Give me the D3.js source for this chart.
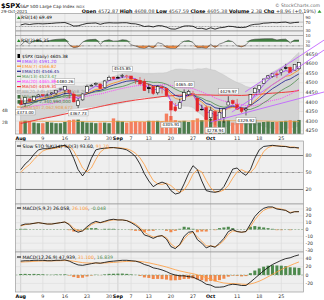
<!DOCTYPE html>
<html><head><meta charset="utf-8">
<script src="https://cdn.jsdelivr.net/npm/d3@7/dist/d3.min.js"></script>
<style>html,body{margin:0;padding:0;background:#fff;}svg{display:block;}</style>
</head><body>
<svg id="chart" width="324" height="300"></svg>
<script>
// ---------- DATA (Aug 2 – Oct 29, 2021) ----------
const prevClose = 4395.26;
const open = [4406.86,4392.74,4415.95,4408.86,4429.07,4437.77,4435.79,4442.18,4446.08,4464.84,
4461.65,4462.12,4440.94,4382.44,4410.56,4450.29,4484.40,4490.45,4493.75,4474.10,
4513.76,4529.75,4528.80,4534.48,4532.42,4535.38,4518.09,4513.02,4506.92,4474.81,
4479.33,4447.49,4477.09,4469.74,4402.95,4374.45,4367.43,4406.75,4438.04,4442.12,
4419.54,4362.41,4370.67,4317.16,4348.84,4309.87,4319.57,4383.73,4406.51,4385.44,
4368.31,4358.01,4386.75,4447.69,4463.72,4497.34,4524.42,4532.24,4546.12,4553.69,
4578.69,4580.22,4562.84,4572.87];
const high = [4422.18,4423.79,4416.17,4429.76,4440.82,4439.39,4445.21,4449.44,4461.77,4468.37,
4480.26,4462.12,4454.32,4418.61,4444.35,4489.88,4492.81,4501.71,4495.90,4513.33,
4537.36,4531.39,4537.11,4545.85,4541.45,4535.38,4521.79,4529.90,4520.47,4492.99,
4485.68,4486.87,4485.87,4471.52,4402.95,4394.87,4416.75,4465.40,4463.12,4457.30,
4419.54,4385.57,4382.55,4375.19,4355.51,4369.23,4365.57,4429.97,4412.02,4415.88,
4374.89,4372.87,4439.73,4475.82,4488.75,4520.40,4540.87,4551.44,4559.67,4572.62,
4598.53,4584.57,4597.55,4608.08];
const low = [4384.81,4373.00,4400.23,4408.86,4429.07,4424.74,4430.03,4436.42,4435.96,4460.82,
4437.66,4417.83,4397.59,4367.73,4406.80,4450.29,4482.28,4485.66,4468.99,4474.10,
4513.76,4515.80,4522.02,4524.66,4521.30,4513.00,4493.95,4492.07,4457.66,4445.70,
4435.46,4438.37,4443.80,4427.76,4305.91,4347.96,4367.43,4406.75,4430.27,4436.19,
4346.33,4355.08,4306.24,4288.52,4278.94,4309.87,4290.49,4383.73,4386.22,4360.59,
4342.09,4329.92,4386.75,4447.69,4447.47,4496.41,4524.40,4526.89,4524.00,4537.36,
4569.17,4551.66,4562.84,4567.59];
const close = [4387.16,4423.15,4402.66,4429.10,4436.52,4432.35,4436.75,4447.70,4460.83,4468.00,
4479.71,4448.08,4400.27,4405.80,4441.67,4479.53,4486.23,4496.19,4470.00,4509.37,
4528.79,4522.68,4524.09,4536.95,4535.43,4520.03,4514.07,4493.28,4458.58,4468.73,
4443.05,4480.70,4473.75,4432.99,4357.73,4354.19,4395.64,4448.98,4455.48,4443.11,
4352.63,4359.46,4307.54,4357.04,4300.46,4345.72,4363.55,4399.76,4391.34,4361.19,
4350.65,4363.80,4438.26,4471.37,4486.46,4519.63,4536.19,4549.78,4544.90,4566.48,
4574.79,4551.68,4596.42,4605.38];
const volume = [2.1,2.2,2.1,1.9,1.8,1.8,2.0,1.9,1.8,1.8,
2.0,2.3,2.4,2.4,2.1,1.9,1.9,1.8,1.9,1.9,
1.8,2.6,2.2,2.1,1.9,2.0,2.1,2.0,2.0,2.2,
2.2,2.2,2.1,3.4,3.0,2.3,2.1,2.2,2.0,2.3,
2.6,2.3,2.7,2.5,2.6,2.2,2.2,2.3,1.9,1.9,
2.1,2.1,2.2,2.4,1.9,2.0,2.1,2.0,2.0,2.1,
2.2,2.3,2.2,2.34];
const volSma50 = [2.14,2.14,2.13,2.13,2.12,2.12,2.11,2.11,2.10,2.10,
2.09,2.09,2.09,2.09,2.08,2.08,2.08,2.07,2.07,2.07,
2.06,2.07,2.07,2.07,2.07,2.07,2.07,2.07,2.07,2.07,
2.08,2.08,2.08,2.11,2.13,2.14,2.14,2.15,2.15,2.16,
2.17,2.18,2.19,2.20,2.21,2.21,2.21,2.22,2.21,2.21,
2.21,2.21,2.20,2.20,2.19,2.17,2.15,2.13,2.11,2.09,
2.08,2.07,2.07,2.06];
const ema3 = [4393.5,4408.3,4405.5,4417.3,4426.9,4429.6,4433.2,4440.4,4450.6,4459.3,
4469.5,4458.8,4429.5,4417.7,4429.7,4454.6,4470.4,4483.3,4476.7,4493.0,
4510.9,4516.8,4520.4,4528.7,4532.1,4526.0,4520.1,4506.7,4482.6,4475.7,
4459.4,4470.0,4471.9,4452.5,4405.1,4379.6,4387.6,4418.3,4436.9,4440.0,
4396.3,4377.9,4342.7,4349.9,4325.2,4335.4,4349.5,4374.6,4383.0,4372.1,
4361.4,4362.6,4400.4,4435.9,4461.2,4490.4,4513.3,4531.5,4538.2,4552.4,
4563.6,4557.6,4577.0,4591.2];
const ema7 = [4389.3,4397.7,4399.0,4406.5,4414.1,4418.6,4423.2,4429.4,4437.3,4445.0,
4453.7,4452.3,4439.2,4430.9,4433.7,4445.3,4455.5,4465.6,4466.7,4477.3,
4490.2,4498.4,4504.8,4512.9,4518.4,4518.8,4517.6,4511.5,4498.4,4491.0,
4479.0,4479.5,4478.1,4466.8,4439.6,4418.2,4412.7,4421.8,4430.1,4433.3,
4413.2,4399.7,4376.8,4371.9,4353.9,4351.9,4354.9,4366.2,4372.4,4369.6,
4365.0,4364.8,4383.1,4405.1,4425.3,4449.0,4470.7,4490.5,4504.1,4519.6,
4533.5,4538.1,4552.6,4566.8];
const ema10 = [4385.4,4392.2,4394.2,4400.5,4407.1,4411.6,4416.2,4422.0,4429.1,4436.2,
4444.2,4444.9,4436.7,4431.1,4433.1,4441.6,4449.7,4458.1,4460.3,4469.1,
4480.0,4487.8,4494.4,4502.1,4508.1,4510.3,4511.0,4507.7,4498.8,4493.4,
4484.2,4483.6,4481.9,4473.0,4452.1,4434.3,4427.3,4431.2,4435.5,4436.9,
4421.6,4410.2,4391.6,4385.3,4369.8,4365.5,4365.2,4371.5,4375.1,4372.5,
4368.6,4367.8,4380.6,4397.0,4413.2,4432.6,4451.4,4469.3,4483.1,4498.2,
4512.2,4519.4,4533.3,4546.5];
const ma13 = [4371.6,4376.5,4382.3,4395.5,4404.2,4409.8,4415.2,4418.0,4421.0,4426.2,
4432.3,4434.5,4434.9,4436.3,4437.8,4443.7,4448.1,4452.6,4455.5,4461.0,
4467.2,4472.0,4476.3,4480.7,4487.4,4496.6,4504.9,4508.8,4507.2,4505.9,
4501.8,4502.6,4499.9,4492.5,4479.8,4466.7,4455.9,4449.3,4444.3,4438.8,
4428.0,4420.3,4407.9,4401.3,4387.4,4377.6,4372.3,4375.5,4378.3,4375.6,
4368.1,4361.1,4360.7,4369.8,4379.6,4395.9,4409.7,4428.9,4444.2,4459.7,
4473.2,4485.6,4503.7,4523.5];
const ma20 = [4367.4,4371.4,4373.7,4379.1,4382.5,4384.9,4388.3,4392.0,4397.0,4404.1,
4415.2,4421.4,4423.5,4425.4,4426.9,4429.8,4434.1,4438.8,4441.4,4447.1,
4454.2,4459.2,4465.2,4470.6,4475.5,4479.9,4483.8,4486.0,4485.9,4486.0,
4484.1,4485.8,4489.5,4490.8,4486.6,4480.3,4475.8,4473.5,4472.7,4469.4,
4460.6,4452.4,4441.6,4432.6,4420.9,4412.2,4404.7,4400.0,4396.6,4391.2,
4386.6,4380.8,4379.0,4380.9,4387.3,4395.6,4402.6,4407.6,4412.1,4418.3,
4429.4,4439.0,4453.4,4465.9];
const ma50 = [4288,4293,4298,4303,4308,4313,4318,4322,4327,4332,
4337,4342,4346,4351,4356,4361,4366,4371,4376,4381,
4386,4391,4395,4399,4403,4406,4410,4413,4416,4419,
4422,4425,4428,4430,4432,4434,4435,4436,4437,4437,
4437,4437,4436,4436,4435,4435,4435,4435,4435,4434,
4434,4435,4437,4438,4440,4442,4444,4446,4447,4449,
4451,4453,4456,4459.3];
const bbUpper = [4451,4451,4450,4451,4455,4455,4456,4460,4467,4476,
4485,4483,4484,4483,4483,4488,4494,4501,4503,4513,
4526,4533,4541,4549,4552,4552,4552,4550,4548,4548,
4548,4550,4550,4553,4563,4570,4572,4570,4569,4567,
4573,4572,4576,4569,4565,4552,4541,4526,4513,4501,
4493,4481,4475,4481,4497,4520,4539,4556,4568,4582,
4597,4613,4637,4658];
const bbLower = [4283,4291,4298,4307,4311,4315,4320,4324,4327,4332,
4345,4359,4364,4367,4371,4372,4374,4377,4379,4381,
4382,4385,4389,4393,4400,4408,4416,4422,4424,4424,
4420,4422,4430,4429,4411,4390,4380,4378,4377,4371,
4349,4332,4308,4297,4277,4272,4269,4274,4281,4281,
4281,4281,4283,4281,4277,4272,4267,4260,4256,4254,
4261,4265,4269,4274];
const rsi14 = [57,62,59,62,63,62,63,64,66,67,
68,61,52,53,59,64,65,66,60,65,
67,66,66,67,67,63,62,57,50,52,
48,54,53,47,39,38,45,52,53,51,
41,42,37,44,38,44,46,51,50,46,
45,47,56,60,61,65,66,68,67,69,
70,65,68,69.49];
const rsi2 = [35,75,50,78,85,68,75,85,91,94,
96,42,12,20,65,86,90,93,45,80,
88,75,77,88,84,40,28,12,4,25,
10,60,50,15,4,3,45,75,80,62,
12,15,5,45,15,47,62,82,70,30,
20,40,85,93,95,97,98,98,85,92,
94,55,85,85.35];
const stoK = [55,65,72,82,90,92,92,93,95,97,
98,92,75,55,44,55,75,90,92,93,
94,94,93,92,90,85,78,65,48,35,
25,30,33,30,18,12,14,30,48,62,
55,35,18,16,15,17,25,40,56,58,
50,45,55,75,90,96,97,98,97,96,
96,94,94,93.6];
const stoD = [50,58,64,73,81,88,91,92,93,95,
97,96,88,74,58,51,58,73,86,92,
93,94,94,93,92,89,84,76,64,49,
36,30,29,31,27,20,15,19,31,47,
55,51,36,23,16,16,19,27,40,51,
55,51,50,58,73,87,94,97,97,97,
96,95,95,91.7];
const macdFast = [6,8,8,9,10,9,8,8,9,10,
11,7,-1,-4,-2,4,9,12,10,12,
14,15,14,14,13,10,6,1,-8,-10,
-13,-10,-9,-14,-25,-28,-22,-10,-4,-3,
-15,-20,-27,-24,-26,-20,-13,-3,0,-3,
-4,-3,8,19,26,31,33,33,30,29,
28,24,26,26.058];
const macdFastSig = [5,7,8,9,10,9,8,8,9,10,
11,8,2,-2,-2,2,7,10,10,11,
13,14,14,14,13,11,8,3,-4,-8,
-11,-10,-9,-12,-21,-26,-23,-14,-7,-4,
-11,-17,-24,-24,-25,-22,-16,-7,-2,-3,
-4,-3,4,14,22,28,31,32,31,30,
28,25,26,26.106];
const macdFastHist = [1,1,0,0,0,0,0,0,0,0,
0,-1,-3,-2,0,2,2,2,0,1,
1,1,0,0,0,-1,-2,-2,-4,-2,
-2,0,0,-2,-4,-2,1,4,3,1,
-4,-3,-3,0,-1,2,3,4,2,0,
0,0,4,5,4,3,2,1,-1,-1,
0,-1,0,-0.048];
const macdSlow = [33,34,34,35,35,35,34,34,35,35,
36,33,28,24,23,25,27,29,28,30,
32,33,34,35,35,34,33,30,25,22,
17,15,12,8,3,0,-2,-2,-4,-5,
-10,-15,-22,-24,-29,-29,-28,-24,-22,-23,
-25,-25,-17,-8,1,10,18,25,30,35,
39,41,45,47.939];
const macdSlowSig = [30.6,31.3,31.8,32.4,32.9,33.3,33.4,33.5,33.8,34.0,
34.4,34.1,32.9,31.1,29.5,28.6,28.3,28.4,28.3,28.6,
29.3,30.0,30.8,31.6,32.3,32.6,32.7,32.2,30.8,29.0,
26.6,24.3,21.8,19.0,15.8,12.6,9.7,7.4,5.1,3.1,
0.5,-2.6,-6.5,-10.0,-13.8,-16.8,-19.1,-20.0,-20.4,-20.9,
-21.7,-22.4,-21.3,-18.6,-14.7,-9.8,-4.2,1.6,7.3,12.8,
18.0,22.6,27.1,31.1];
const macdSlowHist = [2.4,2.7,2.2,2.6,2.1,1.7,0.6,0.5,1.2,1.0,
1.6,-1.1,-4.9,-7.1,-6.5,-3.6,-1.3,0.6,-0.3,1.4,
2.7,3.0,3.2,3.4,2.7,1.4,0.3,-2.2,-5.8,-7.0,
-9.6,-9.3,-9.8,-11.0,-12.8,-12.6,-11.7,-9.4,-9.1,-8.1,
-10.5,-12.4,-15.5,-14.0,-15.2,-12.2,-8.9,-4.0,-1.6,-2.1,
-3.3,-2.6,4.3,10.6,15.7,19.8,22.2,23.4,22.7,22.2,
21.0,18.4,17.9,16.839];
const tickIdx = [0,5,10,15,20,22,25,29,34,39,43,49,54,59];
const tickLabels = ["Aug","9","16","23","30","Sep","7","13","20","27","Oct","11","18","25"];
const priceTicks = [4650,4600,4550,4500,4450,4400,4350,4300,4250];
const annotIdx = [1,10,13,23,34,37,44,47,51];
const annotPrice = [4373.00,4480.26,4367.73,4545.85,4305.91,4465.40,4278.94,4429.97,4329.92];
// trend lines: [dayIndex0, price0, dayIndex1, price1]
const trendLines = [[50.8,4452,68.7,4723],[47.8,4347,68.7,4671],[42.9,4295,68.7,4452]];

// ---------- LAYOUT ----------
const svg = d3.select('#chart').style('font-family','"DejaVu Sans",Verdana,sans-serif');
const L = 15.5, R = 303.5;
const x = d3.scaleLinear().domain([-1,64]).range([16.3,303.4]);
const idx = d3.range(close.length);

function frame(top,bottom){
  svg.append('rect').attr('x',L).attr('y',top).attr('width',R-L).attr('height',bottom-top).attr('fill','#efefef');
  tickIdx.forEach((t,k)=>{
    const month = /[A-Za-z]/.test(tickLabels[k]);
    svg.append('line').attr('x1',x(t)).attr('x2',x(t)).attr('y1',top).attr('y2',bottom)
      .attr('stroke',month?'#bcbcbc':'#d8d8d8').attr('stroke-width',0.6);
  });
  const id = 'cp'+Math.round(top*10);
  svg.append('clipPath').attr('id',id).append('rect').attr('x',L).attr('y',top).attr('width',R-L).attr('height',bottom-top);
  return svg.append('g').attr('clip-path',`url(#${id})`);
}
function border(top,bottom){
  svg.append('rect').attr('x',L).attr('y',top).attr('width',R-L).attr('height',bottom-top)
    .attr('fill','none').attr('stroke','#9a9a9a').attr('stroke-width',0.7);
}
function hline(g,yv,color,dash,w){
  g.append('line').attr('x1',L).attr('x2',R).attr('y1',yv).attr('y2',yv)
   .attr('stroke',color).attr('stroke-width',w||0.6).attr('stroke-dasharray',dash||null);
}
function rightLabels(scale,vals,fs){
  vals.forEach(v=>svg.append('text').attr('x',305.5).attr('y',scale(v)).attr('dy','0.35em')
    .attr('font-size',fs||4.8).attr('fill','#333').text(v));
}
function series(g,scale,arr,color,w,dash){
  g.append('path').datum(arr).attr('fill','none').attr('stroke',color).attr('stroke-width',w||0.8)
   .attr('stroke-dasharray',dash||null)
   .attr('d',d3.line().x((d,i)=>x(i)).y(d=>scale(d)));
}
function label(xp,yp,parts,fs){
  const t = svg.append('text').attr('x',xp).attr('y',yp).attr('font-size',fs||4.6);
  parts.forEach(p=>t.append('tspan').attr('fill',p[1]||'#000').attr('font-weight',p[2]||null).text(p[0]));
  return t;
}
function xLabels(yp){
  tickIdx.forEach((t,k)=>{
    const month = /[A-Za-z]/.test(tickLabels[k]);
    svg.append('text').attr('x',x(t)).attr('y',yp).attr('text-anchor','middle').attr('font-size',4.8)
      .attr('font-weight',month?'bold':null).attr('fill',month?'#000':'#333').text(tickLabels[k]);
  });
}

// ---------- HEADER ----------
label(1,7.5,[['$SPX','#000','bold']],6.6);
label(20,7.5,[['S&P 500 Large Cap Index ','#222']],4.3).append('tspan').attr('font-size',3.4).attr('fill','#444').text('INDX');
svg.append('text').attr('x',320).attr('y',7).attr('text-anchor','end').attr('font-size',4.6).attr('fill','#666').text('© StockCharts.com');
label(1,13,[['29-Oct-2021','#222']],4.2);
label(316,13,[['Open ','#000','bold'],['4572.87 ','#333'],['High ','#000','bold'],['4608.08 ','#333'],
  ['Low ','#000','bold'],['4567.59 ','#333'],['Close ','#000','bold'],['4605.38 ','#333'],
  ['Volume ','#000','bold'],['2.3B ','#333'],['Chg ','#000','bold'],['+8.96 (+0.19%)','#333']],4.9).attr('text-anchor','end');
svg.append('path').attr('d','M317.5,12.8 L321.5,12.8 L319.5,10 Z').attr('fill','#2a9a2a');

// ---------- RSI(14) ----------
{
  const top=13.5,bottom=35.5;
  const y=d3.scaleLinear().domain([0,100]).range([37.5,15.5]);
  const g=frame(top,bottom);
  hline(g,y(70),'#9a9a9a'); hline(g,y(30),'#555'); hline(g,y(50),'#777','2,1');
  series(g,y,rsi14,'#000',0.8);
  border(top,bottom);
  rightLabels(y,[90,70,30,10],4.0);
  svg.append('path').attr('d','M17,19 L20.5,19 L18.75,16 Z').attr('fill','#2a8a2a');
  label(21,19,[['RSI(14) 69.49','#000']],4.5);
}
// ---------- RSI(2) ----------
{
  const top=35.5,bottom=49;
  const y=d3.scaleLinear().domain([0,100]).range([49,38.5]);
  const g=frame(top,bottom);
  g.append('path').datum(rsi2).attr('fill','#3f7f3f')
    .attr('d',d3.area().x((d,i)=>x(i)).y0(y(70)).y1(d=>y(Math.max(d,70))));
  g.append('path').datum(rsi2).attr('fill','#f08a40')
    .attr('d',d3.area().x((d,i)=>x(i)).y0(y(30)).y1(d=>y(Math.min(d,30))));
  hline(g,y(30),'#555','3,1,1,1');
  series(g,y,rsi2,'#444',0.6);
  border(top,bottom);
  rightLabels(y,[70,30],3.6);
  svg.append('path').attr('d','M17,42 L20.5,42 L18.75,39 Z').attr('fill','#2a8a2a');
  label(21,42,[['RSI(2) 85.35','#000']],4.5);
}
// ---------- PRICE ----------
{
  const top=49,bottom=134;
  const y=d3.scaleLinear().domain([4250,4650]).range([130.7,54]);
  const vy=d3.scaleLinear().domain([0,4]).range([134,110]);
  const g=frame(top,bottom);
  priceTicks.forEach(p=>hline(g,y(p),'#dadada'));
  g.append('path').datum(idx).attr('fill','#d4d4d4').attr('stroke','#bdbdbd').attr('stroke-width',0.4)
    .attr('d',d3.area().x(i=>x(i)).y0(i=>y(bbLower[i])).y1(i=>y(bbUpper[i])));
  idx.forEach(i=>{
    const pc = i?close[i-1]:prevClose;
    g.append('rect').attr('x',x(i)-1.7).attr('width',3.4).attr('y',vy(volume[i])).attr('height',vy(0)-vy(volume[i]))
      .attr('fill',close[i]>=pc?'#4d7d4d':'#f47f5f');
  });
  series(g,vy,volSma50,'#f0a040',0.7);
  series(g,y,ma50,'#f02828',0.9);
  series(g,y,ma20,'#ff33ff',0.9,'1,1');
  series(g,y,ma13,'#4f8f4f',0.8);
  series(g,y,ema10,'#1a1a8c',0.8);
  series(g,y,ema7,'#ff8c1a',0.8);
  series(g,y,ema3,'#9b30ff',0.8);
  idx.forEach(i=>{
    const pc = i?close[i-1]:prevClose;
    const col = close[i]<pc?'#e3262a':'#000';
    const filled = close[i]<open[i];
    g.append('line').attr('x1',x(i)).attr('x2',x(i)).attr('y1',y(high[i])).attr('y2',y(low[i]))
      .attr('stroke',col).attr('stroke-width',0.6);
    const y0=Math.min(y(open[i]),y(close[i])), h=Math.max(0.7,Math.abs(y(open[i])-y(close[i])));
    g.append('rect').attr('x',x(i)-1.4).attr('width',2.8).attr('y',y0).attr('height',h)
      .attr('fill',filled?col:'#fff').attr('stroke',col).attr('stroke-width',0.5);
  });
  // annotations
  annotIdx.forEach((i,k)=>{
    const p=annotPrice[k], above = p===high[i];
    const cy = above? y(p)-5 : y(p)+5;
    const txt = p.toFixed(2);
    const w = txt.length*2.55+2;
    svg.append('rect').attr('x',x(i)-w/2).attr('y',cy-2.8).attr('width',w).attr('height',5.6)
      .attr('fill','#fff').attr('stroke','#888').attr('stroke-width',0.4);
    svg.append('text').attr('x',x(i)).attr('y',cy).attr('dy','0.35em').attr('text-anchor','middle')
      .attr('font-size',4.2).attr('fill','#111').text(txt);
  });
  border(top,bottom);
  rightLabels(y,priceTicks,4.8);
  svg.append('text').attr('x',2).attr('y',vy(4)).attr('dy','0.35em').attr('font-size',4.4).attr('fill','#333').text('4B');
  svg.append('text').attr('x',2).attr('y',vy(2)).attr('dy','0.35em').attr('font-size',4.4).attr('fill','#333').text('2B');
  // trend lines (drawn unclipped)
  trendLines.forEach(t=>svg.append('line').attr('x1',x(t[0])).attr('y1',y(t[1])).attr('x2',x(t[2])).attr('y2',y(t[3]))
    .attr('stroke','#c266ff').attr('stroke-width',0.9));
  // legend
  const leg = [
    ['$SPX (Daily) 4605.38','#000','box'],
    ['EMA(3) 4591.20','#9b30ff','line'],
    ['EMA(7) 4566.82','#ff8c1a','line'],
    ['EMA(10) 4546.45','#1a1a8c','line'],
    ['MA(13) 4523.47','#4f8f4f','line'],
    ['MA(20) 4465.89','#ff33ff','line'],
    ['MA(50) 4459.31','#f02828','line'],
    ['BB(20,2.0) 4273.52 - 4658.26','#999','fill'],
    ['Volume 2,340,990,000','#3c6e3c','bar'],
    ['Volume 2,340,990,000','#3c6e3c','bar'],
    ['SMA(50) 2,062,908,672','#e8a050','line']
  ];
  leg.forEach((l,k)=>{
    const cy = 56 + k*5.1;
    if(l[2]==='line') svg.append('line').attr('x1',17).attr('x2',21).attr('y1',cy).attr('y2',cy).attr('stroke',l[1]).attr('stroke-width',1.2);
    else if(l[2]==='fill') svg.append('rect').attr('x',17).attr('y',cy-1.5).attr('width',4).attr('height',3).attr('fill','#ccc').attr('stroke','#999').attr('stroke-width',0.3);
    else if(l[2]==='bar') svg.append('rect').attr('x',17.5).attr('y',cy-1.8).attr('width',3).attr('height',3.6).attr('fill',l[1]);
    else { svg.append('rect').attr('x',17.5).attr('y',cy-2).attr('width',2.5).attr('height',4).attr('fill','#000'); }
    svg.append('text').attr('x',22).attr('y',cy).attr('dy','0.35em').attr('font-size',4.3).attr('fill',l[1]).text(l[0]);
  });
}
xLabels(139.5);
// ---------- SLOW STO ----------
{
  const top=141,bottom=204;
  const y=d3.scaleLinear().domain([0,100]).range([200.8,144.2]);
  const g=frame(top,bottom);
  hline(g,y(80),'#555',null,0.8); hline(g,y(20),'#555',null,0.8); hline(g,y(50),'#555','3,1,1,1');
  series(g,y,stoD,'#ff9a3a',0.8);
  series(g,y,stoK,'#000',0.8);
  border(top,bottom);
  rightLabels(y,[80,50,20],4.8);
  svg.append('line').attr('x1',17).attr('x2',21).attr('y1',146).attr('y2',146).attr('stroke','#000').attr('stroke-width',1);
  label(22.5,147.6,[['Slow STO %K(14) %D(3) 93.60, ','#000'],['91.70','#ff9a3a']],4.6);
}
// ---------- MACD(5,9,2) ----------
{
  const top=204,bottom=252;
  const y=d3.scaleLinear().domain([-30,30]).range([250,209]);
  const g=frame(top,bottom);
  [30,20,10,-10,-20,-30].forEach(v=>hline(g,y(v),'#dcdcdc'));
  idx.forEach(i=>{
    const v=macdFastHist[i];
    g.append('rect').attr('x',x(i)-1.5).attr('width',3).attr('y',Math.min(y(v),y(0))).attr('height',Math.abs(y(v)-y(0)))
      .attr('fill',v>=0?'#4d8a4d':'#f0884a');
  });
  hline(g,y(0),'#7aa07a','2,1.4');
  series(g,y,macdFastSig,'#ff9a3a',0.8);
  series(g,y,macdFast,'#000',0.8);
  border(top,bottom);
  rightLabels(y,[30,20,10,0,-10,-20,-30],4.6);
  svg.append('line').attr('x1',17).attr('x2',21).attr('y1',208).attr('y2',208).attr('stroke','#000').attr('stroke-width',1);
  label(22.5,209.6,[['MACD(5,9,2) 26.058, ','#000'],['26.106','#ff9a3a'],[', ','#000'],['-0.048','#4d8a4d']],4.6);
}
// ---------- MACD(12,26,9) ----------
{
  const top=252,bottom=292;
  const y=d3.scaleLinear().domain([-20,40]).range([283.4,258.2]);
  const g=frame(top,bottom);
  [40,20,-20].forEach(v=>hline(g,y(v),'#dcdcdc'));
  idx.forEach(i=>{
    const v=macdSlowHist[i];
    g.append('rect').attr('x',x(i)-1.5).attr('width',3).attr('y',Math.min(y(v),y(0))).attr('height',Math.abs(y(v)-y(0)))
      .attr('fill',v>=0?'#4d8a4d':'#f0884a');
  });
  hline(g,y(0),'#7aa07a','2,1.4');
  series(g,y,macdSlowSig,'#ff9a3a',0.8);
  series(g,y,macdSlow,'#000',0.8);
  border(top,bottom);
  rightLabels(y,[40,20,0,-20],4.6);
  svg.append('line').attr('x1',17).attr('x2',21).attr('y1',257).attr('y2',257).attr('stroke','#000').attr('stroke-width',1);
  label(22.5,258.6,[['MACD(12,26,9) 47.939, ','#000'],['31.100','#ff9a3a'],[', ','#000'],['16.839','#4d8a4d']],4.6);
}
xLabels(297.5);
</script>
</body></html>
